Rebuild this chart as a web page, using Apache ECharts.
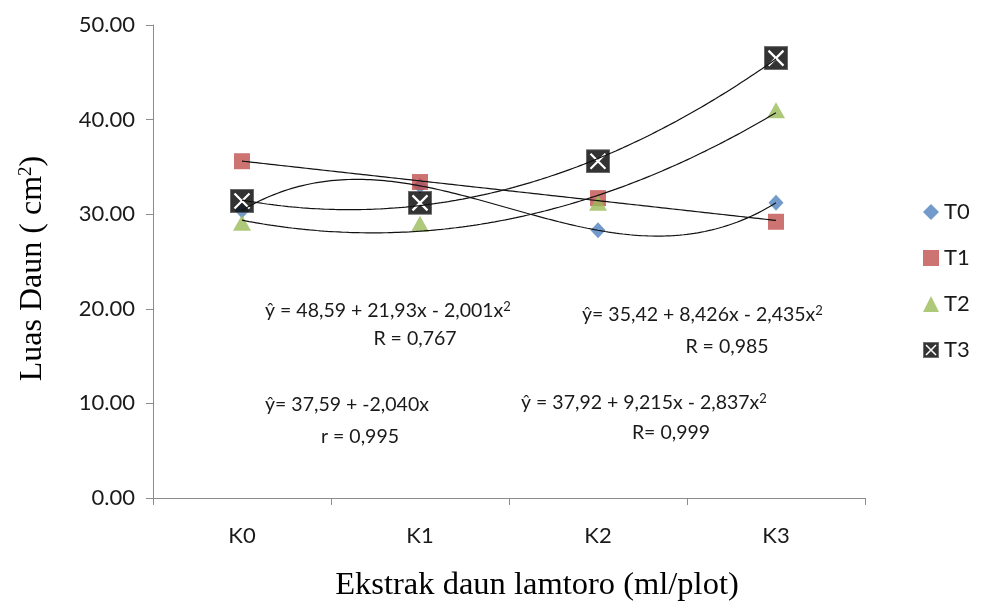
<!DOCTYPE html>
<html>
<head>
<meta charset="utf-8">
<script src="https://cdn.jsdelivr.net/npm/echarts@6/dist/echarts.min.js"></script>
<style>html,body{margin:0;padding:0;background:#fff}#c{width:987px;height:607px}</style>
</head>
<body>
<div id="c"></div>
<script>
var categories = ['K0', 'K1', 'K2', 'K3'];
var T0 = [30.4, 33.0, 28.3, 31.2];
var T1 = [35.6, 33.4, 31.7, 29.2];
var T2 = [29.1, 29.0, 31.2, 41.0];
var T3 = [31.4, 31.2, 35.6, 46.5];
var trendDegree = {T0: 3, T1: 1, T2: 2, T3: 2};
var yTicks = [0, 10, 20, 30, 40, 50];
var equations = [
  'ŷ = 48,59 + 21,93x - 2,001x{s|2}', 'R = 0,767',
  'ŷ= 35,42 + 8,426x - 2,435x{s|2}', 'R = 0,985',
  'ŷ= 37,59 + -2,040x', 'r = 0,995',
  'ŷ = 37,92 + 9,215x - 2,837x{s|2}', 'R= 0,999'
];

function polyFit(ys, deg) {
  var n = deg + 1, A = [], b = [];
  for (var i = 0; i < n; i++) { A.push(new Array(n).fill(0)); b.push(0); }
  ys.forEach(function (y, x) {
    for (var i = 0; i < n; i++) {
      b[i] += y * Math.pow(x, i);
      for (var j = 0; j < n; j++) A[i][j] += Math.pow(x, i + j);
    }
  });
  for (var c = 0; c < n; c++) {
    var p = c;
    for (var r = c + 1; r < n; r++) if (Math.abs(A[r][c]) > Math.abs(A[p][c])) p = r;
    var t = A[c]; A[c] = A[p]; A[p] = t; var tb = b[c]; b[c] = b[p]; b[p] = tb;
    for (var r2 = c + 1; r2 < n; r2++) {
      var f = A[r2][c] / A[c][c];
      for (var k = c; k < n; k++) A[r2][k] -= f * A[c][k];
      b[r2] -= f * b[c];
    }
  }
  var coef = new Array(n).fill(0);
  for (var r3 = n - 1; r3 >= 0; r3--) {
    var s = b[r3];
    for (var k2 = r3 + 1; k2 < n; k2++) s -= A[r3][k2] * coef[k2];
    coef[r3] = s / A[r3][r3];
  }
  return coef;
}
function trend(ys, deg) {
  var c = polyFit(ys, deg), pts = [];
  for (var i = 0; i <= 150; i++) {
    var x = i * (ys.length - 1) / 150, y = 0;
    for (var k = 0; k < c.length; k++) y += c[k] * Math.pow(x, k);
    pts.push([x, y]);
  }
  return pts;
}

var t3svg = "<svg xmlns='http://www.w3.org/2000/svg' width='24' height='24'><rect x='0.5' y='0.5' width='23' height='23' fill='black' stroke='#444'/><path d='M4.5 4.5L19.5 19.5M19.5 4.5L4.5 19.5' stroke='white' stroke-width='2.2'/></svg>";
var t3sym = 'image://data:image/svg+xml;charset=utf-8,' + encodeURIComponent(t3svg);

var colors = {T0: '#4F81BD', T1: '#C0504D', T2: '#9BBB59', T3: '#000'};
var symbols = {T0: 'diamond', T1: 'rect', T2: 'triangle', T3: t3sym};
var sizes = {T0: [15, 16], T1: 16, T2: [18, 16], T3: 24};
var dataMap = {T0: T0, T1: T1, T2: T2, T3: T3};
var names = ['T0', 'T1', 'T2', 'T3'];

var series = [];
names.forEach(function (n) {
  series.push({
    name: n, type: 'scatter', xAxisIndex: 0, data: dataMap[n],
    symbol: symbols[n], symbolSize: sizes[n],
    itemStyle: {color: colors[n]}, z: 2
  });
});
names.forEach(function (n) {
  series.push({
    name: n + ' trend', type: 'line', xAxisIndex: 1, data: trend(dataMap[n], trendDegree[n]),
    showSymbol: false, symbol: 'none', smooth: false, silent: true,
    lineStyle: {color: '#111', width: 1.2}, z: 3
  });
});

var eqPos = [
  [265, 311, 'left'], [415, 339, 'center'],
  [582, 315, 'left'], [727, 347, 'center'],
  [265, 405, 'left'], [360, 437, 'center'],
  [521, 403, 'left'], [671, 433, 'center']
];
var graphics = equations.map(function (t, i) {
  return {type: 'text', x: eqPos[i][0], y: eqPos[i][1], z: 10,
    style: {text: t, fontFamily: 'Lato', fontSize: 19.5, fill: '#1a1a1a',
      textAlign: eqPos[i][2], textVerticalAlign: 'middle',
      rich: {s: {fontFamily: 'Lato', fontSize: 13, fill: '#1a1a1a', verticalAlign: 'top', padding: [0, 0, 8, 0]}}}};
});

var chart = echarts.init(document.getElementById('c'), null, {renderer: 'canvas'});
chart.setOption({
  animation: false,
  grid: {left: 153, right: 122, top: 25, bottom: 100},
  legend: {
    orient: 'vertical', left: 918, top: 196, itemGap: 24, itemWidth: 16, itemHeight: 16,
    textStyle: {fontFamily: 'Lato', fontSize: 22, color: '#1a1a1a'},
    data: [
      {name: 'T0', icon: 'diamond'}, {name: 'T1', icon: 'rect'},
      {name: 'T2', icon: 'triangle'}, {name: 'T3', icon: t3sym}
    ]
  },
  xAxis: [{
    type: 'category', data: categories, boundaryGap: true,
    axisLine: {lineStyle: {color: '#8c8c8c'}},
    axisTick: {show: true, length: 7, lineStyle: {color: '#8c8c8c'}},
    axisLabel: {fontFamily: 'Lato', fontSize: 22, color: '#1a1a1a', margin: 27},
    name: 'Ekstrak daun lamtoro (ml/plot)', nameLocation: 'middle', nameGap: 71,
    nameTextStyle: {fontFamily: 'Liberation Serif', fontSize: 32.5, color: '#000', padding: [0, 0, 0, 56]}
  }, {
    type: 'value', min: -0.5, max: 3.5, show: false
  }],
  yAxis: {
    type: 'value', min: yTicks[0], max: yTicks[yTicks.length - 1], interval: 10,
    axisLine: {show: true, onZero: false, lineStyle: {color: '#8c8c8c'}},
    axisTick: {show: true, length: 7, lineStyle: {color: '#8c8c8c'}},
    splitLine: {show: false},
    axisLabel: {fontFamily: 'Lato', fontSize: 22, color: '#1a1a1a', margin: 18,
      formatter: function (v) { return v.toFixed(2); }},
    name: 'Luas Daun ( cm{s|2})', nameLocation: 'middle', nameGap: 104,
    nameTextStyle: {fontFamily: 'Liberation Serif', fontSize: 32, color: '#000', padding: [0, 14, 0, 0],
      rich: {s: {fontFamily: 'Liberation Serif', fontSize: 19, color: '#000', verticalAlign: 'top', padding: [0, 0, 12, 0]}}}
  },
  graphic: graphics,
  series: series
});
</script>
</body>
</html>
